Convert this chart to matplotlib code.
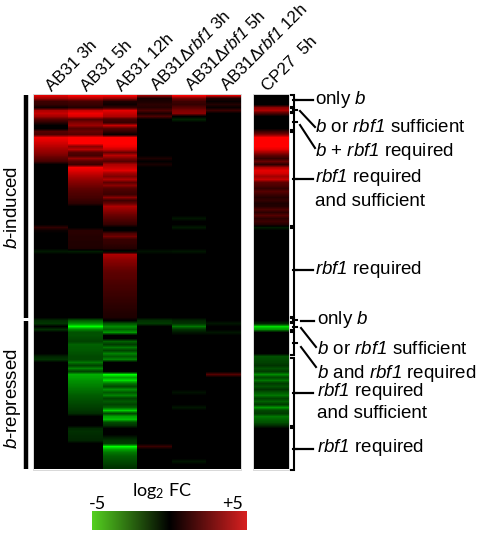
import numpy as np
import matplotlib
matplotlib.use("Agg")
import matplotlib.pyplot as plt
from matplotlib.colors import LinearSegmentedColormap

plt.rcParams.update({
    "font.family": "Liberation Sans",
    "mathtext.fontset": "custom",
    "mathtext.default": "regular",
    "mathtext.it": "Liberation Sans:italic",
    "mathtext.rm": "Liberation Sans:italic",
})

N_ROWS = 125
# each column: first row of a band -> log2 FC values of consecutive rows (other rows are 0)
AB31_3H = {
    0: [4.6, 3.6, 1.6, 1.4, 0.5, 3.8, 4.2, 3.6, 2.2, 1.2],
    12: [2.2, 2.0, 4.8, 4.6, 4.3, 4.0, 3.6, 3.3, 2.9, 2.4, 1.8],
    44: [1.3, 0.3],
    52: [-0.7],
    75: [-1.2, -1.5],
    78: [-1.3],
    87: [-1.0, -1.4],
}
AB31_5H = {
    0: [5, 3.8, 1.8, 1.5, 1.0, 4.2, 4.8, 4.4, 2.2, 3.0, 3.5, 2.2],
    12: [2.6, 2.2, 5, 5, 5, 3.2, 4.0, 2.2, 1.8, 3.4, 2.2, 1.6],
    24: [4.9, 4.6, 4.2, 3.8, 3.4, 3.1, 2.8, 2.5, 2.2, 2.0, 1.8, 1.5, 1.2],
    45: [1.1, 1.1, 1.0, 1.0, 0.9, 0.9, 0.8],
    52: [-0.8],
    75: [-2.4, -3.4, -5, -3.2, -2.2, -2.2, -2.0, -1.8, -2.6, -2.5, -2.4, -2.2, -2.0, -2.0, -3.0, -1.8, -3.2, -1.8, -1.7, -1.5, -1.3],
    93: [-4.0, -3.8, -3.5, -3.3, -3.1, -2.9, -2.7, -2.5, -2.3, -2.1, -1.9, -1.7, -1.5, -1.2],
    111: [-1.1, -1.3, -1.2, -1.1, -1.0],
}
AB31_12H = {
    0: [5, 3.4, 0.8, 0.4, 1.4, 4.6, 4.2, 3.8, 1.8, 1.4, 4.2, 2.2, 1.4, 0.3, 2.0],
    14: [5, 5, 5, 4.8, 4.2, 2.6, 4.0, 3.0, 2.2, 3.8],
    24: [4.2, 4.6, 3.6, 3.0, 3.8, 2.4, 3.2, 2.2, 1.8, 1.6, 3.2, 1.6, 2.6],
    37: [3.8, 3.4, 3.0, 2.6, 2.2, 1.8, 1.4],
    46: [2.0, 2.8, 1.5, 1.4, 1.2, 1.0],
    52: [-0.4],
    53: [3.8, 3.5, 3.2, 3.0, 2.8, 2.6, 2.4, 2.3, 2.2, 2.0, 1.9, 1.8, 1.7, 1.6, 1.5, 1.4, 1.3, 1.2, 1.1, 1.0, 0.9, 0.8],
    76: [-2.2, -3.4, -2.6, -3.6],
    82: [-2.6, -1.6, -3.0, -1.8, -3.2, -2.4, -3.2],
    93: [-5, -3.8, -4.6, -3.0, -2.0, -3.4, -2.4, -3.2, -1.8, -2.4, -1.8, -2.6, -4.4, -2.0, -3.8, -4.2, -2.0, -1.4],
    114: [-0.8, -1.4, -1.6],
    117: [-5, -3.8, -3.0, -2.6, -2.3, -2.0, -1.7, -1.4],
}
AB31_DRBF1_3H = {
    0: [3.6, 0.6, 0.8, 1.2, 1.0, 2.0, 0.8, 2.0],
    21: [0.8],
    23: [0.7],
    52: [-0.5],
    75: [-1.3, -1.6],
    117: [1.5],
}
AB31_DRBF1_5H = {
    0: [5, 2.8, 1.6, 1.4, 2.2, 3.0, 3.2],
    8: [-1.0],
    41: [-0.6],
    44: [-0.7],
    52: [-0.6],
    75: [-1.0, -1.4, -3.0, -1.4, -0.6],
    99: [-0.5],
    104: [-0.6],
    122: [-0.6],
}
AB31_DRBF1_12H = {
    0: [4.6, 0.8, 0.2, 1.0, 0.2, 1.6],
    76: [-0.6],
    79: [-0.6],
    93: [2.2],
}
CP27_5H = {
    4: [3.2, 3.8, 2.0],
    12: [1.6, 3.0, 5, 5, 5, 5, 4.6, 3.6, 2.4, 1.4, 2.6, 1.2, 0.8],
    24: [3.8, 4.6, 4.4, 3.6, 4.2],
    29: [2.4, 2.0, 1.4, 2.2, 1.6, 1.0, 1.4, 0.8, 1.0, 2.0, 1.2, 2.2, 1.2, 1.6, 1.0],
    44: [-0.8],
    76: [-1.0, -4.6, -3.6],
    87: [-2.2, -2.0],
    89: [-1.8, -1.4, -2.2, -1.6, -3.4, -2.0, -3.0, -1.6, -2.2, -1.4, -2.4, -3.0, -1.8, -2.6, -1.6, -3.6, -2.0, -1.6, -3.0, -2.6, -2.2, -1.2],
}
HEAT_COLUMNS = [AB31_3H, AB31_5H, AB31_12H, AB31_DRBF1_3H, AB31_DRBF1_5H, AB31_DRBF1_12H]

TICK_LABELS = ["AB31 3h", "AB31 5h", "AB31 12h",
               r"AB31Δ$\mathit{rbf}\mathrm{1}$ 3h",
               r"AB31Δ$\mathit{rbf}\mathrm{1}$ 5h",
               r"AB31Δ$\mathit{rbf}\mathrm{1}$ 12h",
               "CP27  5h"]
CBAR_MIN, CBAR_MAX = -5, 5


def column_values(bands):
    col = np.zeros(N_ROWS)
    for start, vals in bands.items():
        col[start:start + len(vals)] = vals
    return col


def norm(m):
    return (m + 5) / 10


heat_cmap = LinearSegmentedColormap.from_list("gbr", [
    (norm(-5), (0, 1, 0)), (norm(-4), (0, 0.68, 0)), (norm(-2.5), (0, 0.36, 0)), (norm(-1), (0, 0.14, 0)),
    (norm(0), (0, 0, 0)),
    (norm(1), (0.14, 0, 0)), (norm(2.5), (0.38, 0, 0)), (norm(4), (0.72, 0, 0)), (norm(5), (1, 0, 0)),
])
bar_cmap = LinearSegmentedColormap.from_list("bar", ["#55d020", "#000000", "#d82020"])

fig = plt.figure(figsize=(4.81, 5.35), dpi=100)
ax = fig.add_axes([0, 0, 1, 1])
ax.axis("off")


def draw_column(bands, x0, x1):
    img = np.repeat(column_values(bands)[:, None], 2, axis=1)
    ax.imshow(img, cmap=heat_cmap, vmin=-5, vmax=5, aspect="auto",
              interpolation="bilinear", extent=(x0, x1, 469, 94))


MAIN_X0, COL_W = 34, 34.5
for i, bands in enumerate(HEAT_COLUMNS):
    draw_column(bands, MAIN_X0 + i * COL_W, MAIN_X0 + (i + 1) * COL_W)
draw_column(CP27_5H, 254, 289)

# colour bar
grad = np.linspace(CBAR_MIN, CBAR_MAX, 256)[None, :]
ax.imshow(grad, cmap=bar_cmap, vmin=CBAR_MIN, vmax=CBAR_MAX, aspect="auto",
          extent=(92, 247, 530, 511))

ax.set_xlim(0, 481)
ax.set_ylim(535, 0)

# thin light frame round the panels
for x0, x1 in [(33.5, 241.5), (253.5, 289.5)]:
    ax.plot([x0, x1, x1, x0, x0], [93.5, 93.5, 469.5, 469.5, 93.5], color="#d8d8d8", lw=0.7)

# group bars
ax.plot([26, 26], [95, 317.5], color="black", lw=3.2, solid_capstyle="butt")
ax.plot([26, 26], [321, 469], color="black", lw=3.2, solid_capstyle="butt")
ax.text(13, 207, r"$\mathit{b}$-induced", rotation=90, ha="center", va="center", fontsize=13.5)
ax.text(13, 399, r"$\mathit{b}$-repressed", rotation=90, ha="center", va="center", fontsize=13.5)

# column labels
anchors = [52, 87, 122, 157, 192, 227, 268]
for x, lab in zip(anchors, TICK_LABELS):
    ax.text(x, 92, lab, rotation=45, rotation_mode="anchor", ha="left", va="baseline", fontsize=12.2)


def bracket(y0, y1, ym, x=291, w=3, tick=(293, 297)):
    ax.plot([x, x + w, x + w, x], [y0, y0, y1, y1], color="black", lw=1.5, solid_joinstyle="miter")
    ax.plot(tick, [ym, ym], color="black", lw=1.5)


def leader(y0, y1, ym):
    bracket(y0, y1, ym)
    ax.plot([296, 313], [ym, ym], color="black", lw=1.6)


leader(95, 107, 100)
bracket(107.5, 111.5, 110)
bracket(113, 130, 122)
leader(132, 226, 179)
leader(228, 317, 270)
bracket(317.5, 322, 320)
ax.plot([301, 314], [321, 321], color="black", lw=1.6)
bracket(323, 330, 327)
bracket(332, 355, 343)
leader(358, 426, 393)
leader(428, 470, 449)
for (xa, ya, xb, yb) in [(300, 111, 315, 127), (300, 125, 315, 148),
                         (301, 328, 316, 347), (301, 347, 316, 367)]:
    ax.plot([xa, xb], [ya, yb], color="black", lw=1.5)

ANNOTATIONS = [
    (315, 100, r"only $\mathit{b}$"),
    (315, 128, r"$\mathit{b}$ or $\mathit{rbf}\mathrm{1}$ sufficient"),
    (315, 151, r"$\mathit{b}$ + $\mathit{rbf}\mathrm{1}$ required"),
    (315, 177, r"$\mathit{rbf}\mathrm{1}$ required"),
    (315, 201, "and sufficient"),
    (315, 269, r"$\mathit{rbf}\mathrm{1}$ required"),
    (317, 319, r"only $\mathit{b}$"),
    (317, 350, r"$\mathit{b}$ or $\mathit{rbf}\mathrm{1}$ sufficient"),
    (317, 373, r"$\mathit{b}$ and $\mathit{rbf}\mathrm{1}$ required"),
    (317, 392, r"$\mathit{rbf}\mathrm{1}$ required"),
    (317, 414, "and sufficient"),
    (317, 447, r"$\mathit{rbf}\mathrm{1}$ required"),
]
for x, y, s in ANNOTATIONS:
    ax.text(x, y, s, ha="left", va="center", fontsize=13.5)

# colour bar labels
ax.text(162, 491, r"log$_2$ FC", ha="center", va="center", fontsize=13, family="Lato")
ax.text(98, 504, "-5", ha="center", va="center", fontsize=13, family="Lato")
ax.text(233, 504, "+5", ha="center", va="center", fontsize=13, family="Lato")

fig.savefig("out.png", dpi=100)
